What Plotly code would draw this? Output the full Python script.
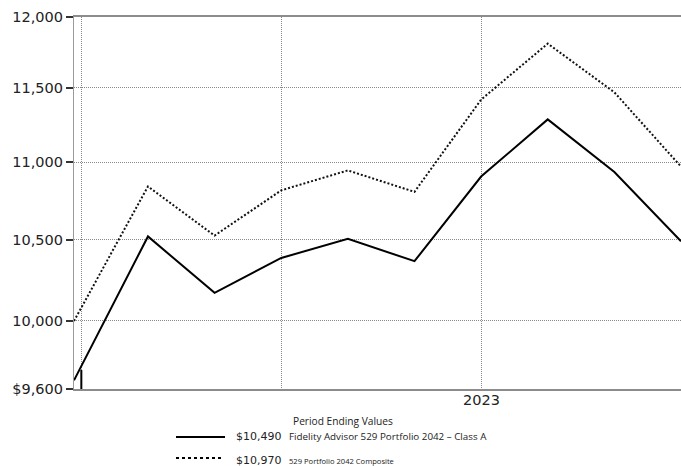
import math
import plotly.graph_objects as go

# ---- data ----
period_index = [-0.11, 1, 2, 3, 4, 5, 6, 7, 8, 9]          # months from start (tick "2023" at 6)
fund_values = [9650, 10520, 10170, 10385, 10505, 10365, 10905, 11285, 10935, 10490]
composite_values = [10000, 10840, 10525, 10815, 10945, 10805, 11420, 11810, 11470, 10970]
y_tick_vals = [9600, 10000, 10500, 11000, 11500, 12000]
y_tick_text = ["$9,600", "10,000", "10,500", "11,000", "11,500", "12,000"]
x_tick_vals = [0, 3, 6]
x_tick_text = ["", "", "2023"]
legend_title = "Period Ending Values"
series_names = ["Fidelity Advisor 529 Portfolio 2042 – Class A", "529 Portfolio 2042 Composite"]
series_end_labels = ["$10,490", "$10,970"]

W, H = 681, 466
L, R, T, B = 74, 0, 17, 77
PW, PH = W - L - R, H - T - B


def px(xp):
    return (xp - L) / PW


def py(yp):
    return (H - B - yp) / PH


fig = go.Figure()
fig.add_trace(go.Scatter(x=period_index, y=fund_values, mode="lines",
                         line=dict(color="#000000", width=2), hoverinfo="skip"))
fig.add_trace(go.Scatter(x=period_index, y=composite_values, mode="lines",
                         line=dict(color="#111111", width=2, dash="2px,2px"), hoverinfo="skip"))

grid_color = "#8a8a8a"
fig.update_layout(
    width=W, height=H,
    margin=dict(l=L, r=R, t=T, b=B),
    paper_bgcolor="white", plot_bgcolor="white",
    showlegend=False,
    font=dict(family="DejaVu Sans", size=14.5, color="#222222"),
    xaxis=dict(
        range=[period_index[0], period_index[-1]],
        tickvals=x_tick_vals, ticktext=["" for _ in x_tick_text],
        showgrid=True, gridcolor=grid_color, gridwidth=1, griddash="1px,1px",
        showline=True, linecolor="#8c8c8c", linewidth=1.5, mirror=True,
        ticks="", zeroline=False,
    ),
    yaxis=dict(
        type="log",
        range=[math.log10(y_tick_vals[0]), math.log10(y_tick_vals[-1])],
        tickvals=y_tick_vals, ticktext=y_tick_text,
        showgrid=True, gridcolor=grid_color, gridwidth=1, griddash="1px,1px",
        showline=True, linecolor="#9a9a9a", linewidth=1.2, mirror=False,
        ticks="outside", ticklen=7, tickwidth=1.5, tickcolor="#333333",
        zeroline=False,
        tickfont=dict(family="DejaVu Sans", size=14.5, color="#222222"),
    ),
)

# x tick labels placed just below the axis
for xv, label in zip(x_tick_vals, x_tick_text):
    if label:
        fig.add_annotation(xref="x", yref="paper", x=xv, y=py(400), text=label,
                           showarrow=False, xanchor="center", yanchor="middle",
                           font=dict(family="DejaVu Sans", size=14.5, color="#222222"))

# small start marker on the first gridline
fig.add_shape(type="line", xref="x", yref="paper", x0=x_tick_vals[0], x1=x_tick_vals[0],
              y0=0, y1=py(370), line=dict(color="#000000", width=2))

# legend block
fig.add_annotation(xref="paper", yref="paper", x=px(343), y=py(421), text=legend_title,
                   showarrow=False, xanchor="center", yanchor="middle",
                   font=dict(family="Open Sans", size=10.2, color="#222222"))
fig.add_shape(type="line", xref="paper", yref="paper", x0=px(176), x1=px(225), y0=py(437), y1=py(437),
              line=dict(color="#000000", width=2))
fig.add_shape(type="line", xref="paper", yref="paper", x0=px(176), x1=px(223), y0=py(458), y1=py(458),
              line=dict(color="#000000", width=2, dash="3px,3px"))
fig.add_annotation(xref="paper", yref="paper", x=px(234), y=py(437), text=series_end_labels[0],
                   showarrow=False, xanchor="left", yanchor="middle",
                   font=dict(family="DejaVu Sans", size=11, color="#222222"))
fig.add_annotation(xref="paper", yref="paper", x=px(234), y=py(460), text=series_end_labels[1],
                   showarrow=False, xanchor="left", yanchor="middle",
                   font=dict(family="DejaVu Sans", size=11, color="#222222"))
fig.add_annotation(xref="paper", yref="paper", x=px(287), y=py(437), text=series_names[0],
                   showarrow=False, xanchor="left", yanchor="middle",
                   font=dict(family="Open Sans", size=9.8, color="#222222"))
fig.add_annotation(xref="paper", yref="paper", x=px(287), y=py(461), text=series_names[1],
                   showarrow=False, xanchor="left", yanchor="middle",
                   font=dict(family="Open Sans", size=7.6, color="#222222"))

fig.write_html("out.html", config={"displayModeBar": False})
